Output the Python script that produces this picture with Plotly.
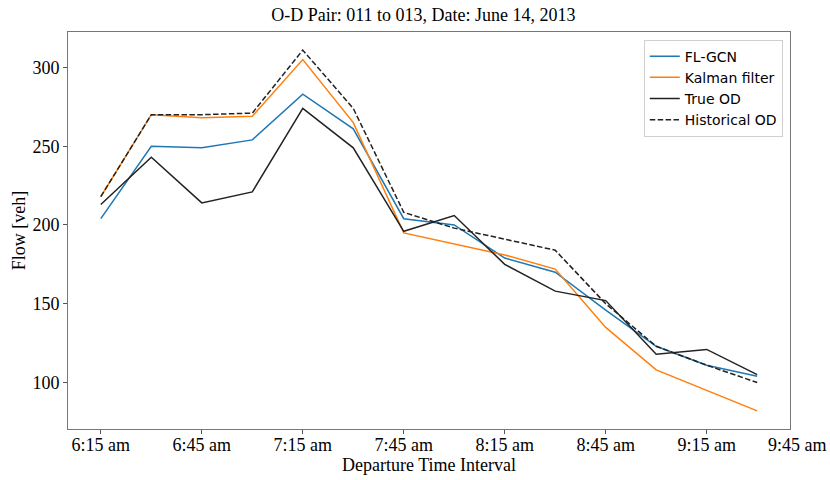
import plotly.graph_objects as go

times = ["06:15", "06:30", "06:45", "07:00", "07:15", "07:30", "07:45",
         "08:00", "08:15", "08:30", "08:45", "09:00", "09:15", "09:30"]
fl_gcn = [204, 250, 249, 254, 283, 261, 204, 200, 179, 170, 146, 123, 111, 104]
kalman = [218, 270, 268, 269, 305, 265, 195, 188, 181, 172, 135, 108, 95, 82]
true_od = [213, 243, 214, 221, 274, 249, 196, 206, 175, 158, 152, 118, 121, 105]
historical = [218, 270, 270, 271, 311, 274, 208, 198, 191, 184, 150, 123, 111, 100]

tick_times = ["06:15", "06:45", "07:15", "07:45", "08:15", "08:45", "09:15"]
tick_labels = ["6:15 am", "6:45 am", "7:15 am", "7:45 am", "8:15 am", "8:45 am", "9:15 am"]
extra_label = "9:45 am"

day = "2013-06-14 "
x = [day + t for t in times]

series = [
    ("FL-GCN", fl_gcn, "#1f77b4", "solid"),
    ("Kalman filter", kalman, "#ff7f0e", "solid"),
    ("True OD", true_od, "#222222", "solid"),
    ("Historical OD", historical, "#222222", "5.5px,2.4px"),
]

fig = go.Figure()
for name, vals, color, dash in series:
    fig.add_trace(go.Scatter(x=x, y=vals, mode="lines", name=name,
                             line=dict(color=color, width=1.5, dash=dash)))

serif = "Liberation Serif, Times New Roman, serif"

fig.update_layout(
    width=830, height=480,
    margin=dict(l=68, r=40, t=32, b=51, autoexpand=False),
    paper_bgcolor="white", plot_bgcolor="white",
    title=dict(text="O-D Pair: 011 to 013, Date: June 14, 2013",
               x=0.51, xref="container", xanchor="center",
               y=0.969, yref="container", yanchor="middle",
               font=dict(family=serif, size=18, color="black")),
    legend=dict(x=0.990, y=0.981, xanchor="right", yanchor="top",
                bgcolor="white", bordercolor="#d0d0d0", borderwidth=1,
                font=dict(family="DejaVu Sans", size=14, color="black"),
                itemwidth=30, tracegroupgap=0),
    showlegend=True,
)

fig.update_xaxes(
    type="date", automargin=False,
    range=[day + "06:05:15", day + "09:39:45"],
    tickvals=[day + t for t in tick_times], ticktext=tick_labels,
    ticks="outside", ticklen=4, tickcolor="#555555",
    ticklabelstandoff=-5,
    showgrid=False, zeroline=False,
    showline=True, linecolor="#777777", linewidth=1, mirror=True,
    tickfont=dict(family=serif, size=18, color="black"),
    title=dict(text="Departure Time Interval", standoff=2,
               font=dict(family=serif, size=18, color="black")),
)
fig.update_yaxes(
    automargin=False,
    range=[70.5, 322.5],
    tickvals=[100, 150, 200, 250, 300],
    ticks="outside", ticklen=4, tickcolor="#555555",
    showgrid=False, zeroline=False,
    showline=True, linecolor="#777777", linewidth=1, mirror=True,
    tickfont=dict(family=serif, size=18, color="black"),
    title=dict(text="Flow [veh]", standoff=2,
               font=dict(family=serif, size=18, color="black")),
)

fig.add_annotation(text=extra_label, xref="paper", yref="paper",
                   x=1, y=0, xanchor="center", yanchor="top",
                   xshift=7, yshift=-4, showarrow=False,
                   font=dict(family=serif, size=18, color="black"))

fig.write_html("out.html", config={"displayModeBar": False},
               post_script="document.body.style.margin='0';")
